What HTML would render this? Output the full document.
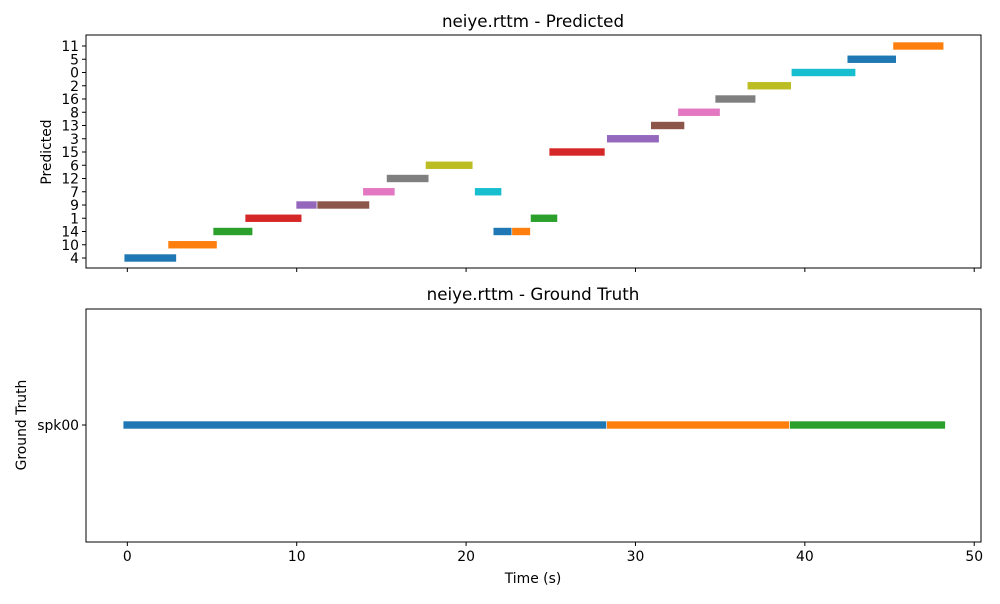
<!DOCTYPE html>
<html><head><meta charset="utf-8"><style>
body{margin:0;background:#fff;font-family:"DejaVu Sans","Liberation Sans",sans-serif}
</style></head><body>
<svg id="c" width="1000" height="600" xmlns="http://www.w3.org/2000/svg" font-family="DejaVu Sans, Liberation Sans, sans-serif"></svg>
<script>
const predLabels=["4","10","14","1","9","7","12","6","15","3","13","8","16","2","0","5","11"];
const predSpk=["4","10","14","1","9","9","7","12","6","7","14","14","1","15","3","13","8","16","2","0","5","11"];
const predStart=[-0.19,2.4,5.06,6.95,9.96,11.2,13.9,15.3,17.6,20.5,21.6,22.7,23.8,24.9,28.3,30.9,32.5,34.7,36.6,39.2,42.5,45.2];
const predEnd=[2.9,5.3,7.4,10.3,11.2,14.3,15.8,17.8,20.4,22.1,22.8,23.8,25.4,28.2,31.4,32.9,35.0,37.1,39.2,43.0,45.4,48.2];
const gtStart=[-0.25,28.3,39.1];
const gtEnd=[28.3,39.1,48.3];
const xTicks=[0,10,20,30,40,50];
const colors=["#1f77b4","#ff7f0e","#2ca02c","#d62728","#9467bd","#8c564b","#e377c2","#7f7f7f","#bcbd22","#17becf"];
const svg=document.getElementById('c');
const NS="http://www.w3.org/2000/svg";
function mk(t,a,txt){const e=document.createElementNS(NS,t);for(const k in a)e.setAttribute(k,a[k]);if(txt!==undefined)e.textContent=txt;svg.appendChild(e);return e;}
const L=86,R=981,xmin=-2.44,xmax=50.4;
function X(v){return L+(v-xmin)/(xmax-xmin)*(R-L);}
const T1=35,B1=268;
function Y1(i){return 258-i*13.25;}
predStart.forEach((s,i)=>{
 const r=mk('rect',{x:X(s),y:Y1(predLabels.indexOf(predSpk[i]))-4,width:X(predEnd[i])-X(s),height:8,fill:colors[i%10],stroke:'#fff','stroke-width':0.6});
 
 
});
let f=mk('rect',{x:L,y:T1,width:R-L,height:B1-T1,fill:'none',stroke:'#000','stroke-width':1});

predLabels.forEach((l,i)=>{
 mk('line',{x1:L-4,x2:L,y1:Y1(i),y2:Y1(i),stroke:'#000'});
 const t=mk('text',{x:L-7,y:Y1(i)+5,'text-anchor':'end','font-size':13.9},l);
 
});
xTicks.forEach(v=>mk('line',{x1:X(v),x2:X(v),y1:B1,y2:B1+4,stroke:'#000'}));
let tt=mk('text',{x:533,y:27,'text-anchor':'middle','font-size':16.7},'neiye.rttm - Predicted');

let yt=mk('text',{x:51,y:152,'text-anchor':'middle','font-size':13.9,transform:'rotate(-90 51 152)'},'Predicted');

const T2=309,B2=542,yg=425;
gtStart.forEach((s,i)=>{
 const r=mk('rect',{x:X(s),y:yg-4,width:X(gtEnd[i])-X(s),height:8,fill:colors[i%10],stroke:'#fff','stroke-width':0.6});
 
 
});
f=mk('rect',{x:L,y:T2,width:R-L,height:B2-T2,fill:'none',stroke:'#000','stroke-width':1});

mk('line',{x1:L-4,x2:L,y1:yg,y2:yg,stroke:'#000'});
let sl=mk('text',{x:L-7,y:yg+5,'text-anchor':'end','font-size':13.9},'spk00');

xTicks.forEach(v=>{
 mk('line',{x1:X(v),x2:X(v),y1:B2,y2:B2+4,stroke:'#000'});
 const t=mk('text',{x:X(v),y:B2+19,'text-anchor':'middle','font-size':13.9},String(v));
 
});
tt=mk('text',{x:533,y:300,'text-anchor':'middle','font-size':16.7},'neiye.rttm - Ground Truth');

yt=mk('text',{x:26,y:425,'text-anchor':'middle','font-size':13.9,transform:'rotate(-90 26 425)'},'Ground Truth');

let xt=mk('text',{x:533,y:583,'text-anchor':'middle','font-size':13.9},'Time (s)');

</script>
</body></html>
